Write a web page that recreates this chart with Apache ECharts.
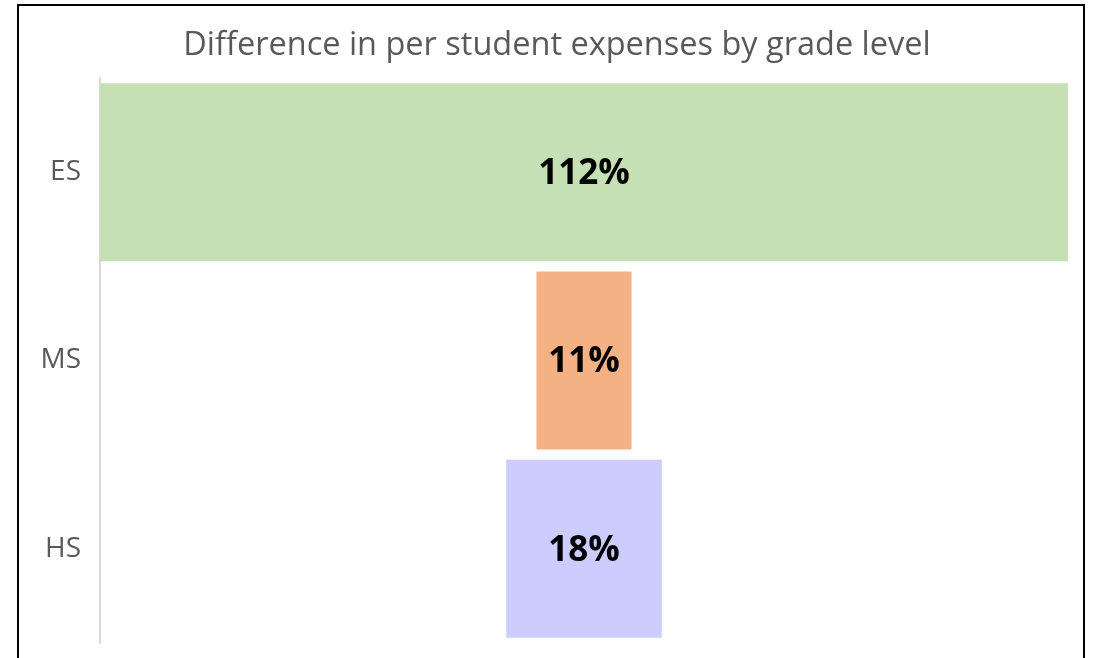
<!DOCTYPE html>
<html>
<head>
<meta charset="utf-8">
<script src="https://cdn.jsdelivr.net/npm/echarts@6/dist/echarts.min.js"></script>
<style>
  html, body { margin: 0; padding: 0; background: #fff; }
  #chart { width: 1096px; height: 658px; }
</style>
</head>
<body>
<div id="chart"></div>
<script>
// grade levels, top to bottom
const grades = ['ES', 'MS', 'HS']
// difference in per student expenses (%)
const diffPct = [112, 11, 18]
const barColors = ['#c5e0b4', '#f4b183', '#ccccff']

const maxPct = Math.max(...diffPct)
// transparent spacer so each bar sits centred on the widest one
const spacer = diffPct.map(v => (maxPct - v) / 2)

const chart = echarts.init(document.getElementById('chart'))

chart.setOption({
  animation: false,
  title: {
    text: 'Difference in per student expenses by grade level',
    left: 552,
    textAlign: 'center',
    top: 24,
    textStyle: {
      fontFamily: 'Open Sans',
      fontWeight: 'normal',
      fontSize: 32.5,
      color: '#595959'
    }
  },
  graphic: [{
    type: 'rect',
    shape: { x: 18, y: 5, width: 1066, height: 670 },
    style: { fill: 'none', stroke: '#000', lineWidth: 2 },
    silent: true
  }],
  grid: {
    left: 100,
    right: 28,
    top: 78,
    bottom: 15
  },
  xAxis: {
    type: 'value',
    min: 0,
    max: maxPct,
    show: false
  },
  yAxis: {
    type: 'category',
    data: grades,
    inverse: true,
    axisLine: { lineStyle: { color: '#d9d9d9', width: 2 } },
    axisTick: { show: false },
    axisLabel: {
      margin: 19,
      padding: [3, 0, 0, 0],
      fontFamily: 'Open Sans',
      fontSize: 28,
      color: '#595959'
    }
  },
  series: [
    {
      type: 'bar',
      stack: 'total',
      data: spacer,
      itemStyle: { color: 'transparent' },
      barCategoryGap: '5.5%',
      silent: true
    },
    {
      type: 'bar',
      stack: 'total',
      data: diffPct.map((v, i) => ({ value: v, itemStyle: { color: barColors[i] } })),
      barCategoryGap: '5.5%',
      label: {
        show: true,
        position: 'inside',
        offset: [0, 2],
        formatter: p => p.value + '%',
        fontFamily: 'Open Sans',
        fontWeight: 'bold',
        fontSize: 35,
        color: '#000'
      }
    }
  ]
})
</script>
</body>
</html>
